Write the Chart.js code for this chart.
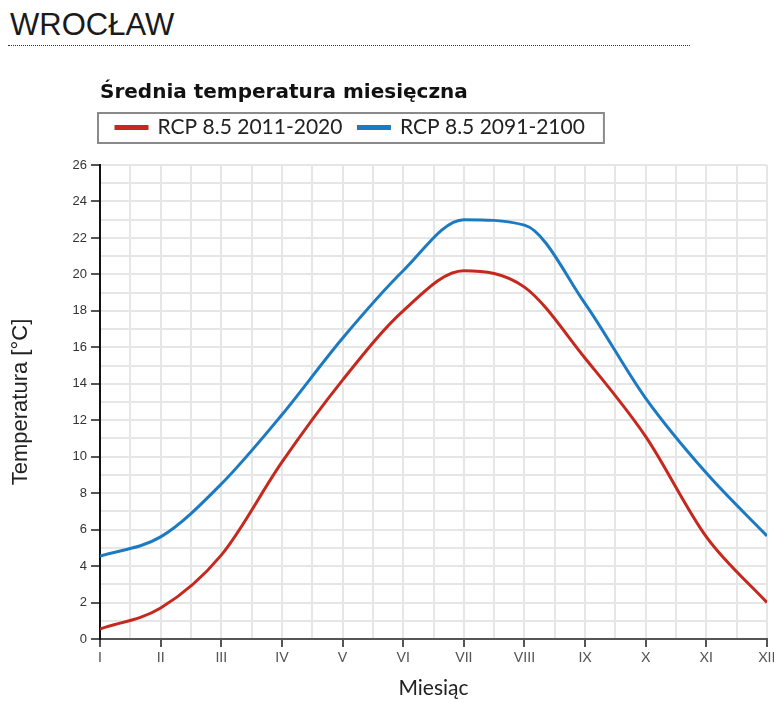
<!DOCTYPE html>
<html>
<head>
<meta charset="utf-8">
<script src="https://cdn.jsdelivr.net/npm/chart.js@4/dist/chart.umd.min.js"></script>
<style>
  html, body { margin: 0; padding: 0; background: #fff; overflow: hidden; }
  #wrap { position: relative; width: 774px; height: 702px; }
  #city { position: absolute; left: 10px; top: 8px; font-family: "Liberation Sans", Arial, sans-serif; font-size: 31px; color: #1a1a1a; line-height: 34px; }
  #rule { position: absolute; left: 8px; top: 45px; width: 682px; border-top: 1px dotted #333; }
  #c { position: absolute; left: 0; top: 0; }
</style>
</head>
<body>
<div id="wrap">
  <div id="city">WROCŁAW</div>
  <div id="rule"></div>
  <canvas id="c" width="774" height="702"></canvas>
</div>
<script>
const months = ["I","II","III","IV","V","VI","VII","VIII","IX","X","XI","XII"];
const rcp2011 = [0.55, 1.7, 4.6, 9.7, 14.2, 18.0, 20.2, 19.3, 15.4, 11.1, 5.6, 2.0];
const rcp2091 = [4.55, 5.6, 8.5, 12.3, 16.5, 20.2, 23.0, 22.7, 18.4, 13.2, 9.1, 5.65];
const seriesNames = ["RCP 8.5 2011-2020", "RCP 8.5 2091-2100"];
const chartTitle = "Średnia temperatura miesięczna";
const yTitle = "Temperatura [°C]";
const xTitle = "Miesiąc";

const toXY = arr => arr.map((v, i) => ({ x: i, y: v }));

const legendBorder = {
  id: 'legendBorder',
  afterDraw(chart) {
    const lg = chart.legend;
    if (!lg || !lg.legendHitBoxes || !lg.legendHitBoxes.length) return;
    const hb = lg.legendHitBoxes;
    const first = hb[0], last = hb[hb.length - 1];
    const ctx = chart.ctx;
    ctx.save();
    ctx.strokeStyle = '#8a8a8a';
    ctx.lineWidth = 2;
    const x0 = first.left - 18, x1 = last.left + last.width + 19;
    const y0 = first.top - 4, y1 = first.top + first.height + 5;
    ctx.strokeRect(x0, y0, x1 - x0, y1 - y0);
    ctx.restore();
  }
};

new Chart(document.getElementById('c'), {
  type: 'line',
  data: {
    datasets: [
      { label: seriesNames[0], data: toXY(rcp2011), borderColor: '#c5281c', backgroundColor: '#c5281c', borderWidth: 3, pointRadius: 0, cubicInterpolationMode: 'monotone', fill: false },
      { label: seriesNames[1], data: toXY(rcp2091), borderColor: '#1b7ac2', backgroundColor: '#1b7ac2', borderWidth: 3, pointRadius: 0, cubicInterpolationMode: 'monotone', fill: false }
    ]
  },
  options: {
    responsive: false,
    animation: false,
    events: [],
    layout: { padding: { top: 85, right: 7, left: 0, bottom: 0 } },
    plugins: {
      title: {
        display: true, text: chartTitle, align: 'start', fullSize: false,
        color: '#111', padding: { top: 0, bottom: 0 },
        font: { family: 'DejaVu Sans', size: 20, weight: 'bold', lineHeight: 0.8 }
      },
      subtitle: {
        display: true, text: ' ', weight: 500, fullSize: false, padding: 0,
        font: { size: 1, lineHeight: '17px' }
      },
      legend: {
        display: true, align: 'start', fullSize: false,
        labels: {
          boxWidth: 31, boxHeight: 2, padding: 16, color: '#222',
          font: { family: 'Lato', size: 21 }
        }
      },
      tooltip: { enabled: false }
    },
    scales: {
      x: {
        type: 'linear', min: 0, max: 11,
        afterFit(s) { s.height = 63; s.paddingLeft = 0; s.paddingRight = 0; },
        ticks: {
          stepSize: 0.5, autoSkip: false, maxRotation: 0, padding: 2,
          color: '#555', font: { family: 'Lato', size: 14 },
          callback: v => Number.isInteger(v) ? months[v] : ''
        },
        grid: {
          color: '#e6e6e6', lineWidth: 2, tickLength: 8,
          tickColor: c => (c.tick && Number.isInteger(c.tick.value)) ? '#555' : 'rgba(0,0,0,0)',
          tickWidth: 2
        },
        border: { color: '#555', width: 2 },
        title: { display: true, text: xTitle, color: '#222', padding: { top: 0, bottom: 1.5 }, font: { family: 'Lato', size: 21 } }
      },
      y: {
        min: 0, max: 26,
        afterFit(s) { s.width = 100; },
        ticks: {
          stepSize: 1, autoSkip: false, padding: 4,
          color: '#333', font: { family: 'Liberation Sans', size: 13 },
          callback: v => (v % 2 === 0) ? String(v) : ''
        },
        grid: {
          color: '#e6e6e6', lineWidth: 2, tickLength: 9,
          tickColor: c => (c.tick && c.tick.value % 2 === 0) ? '#555' : 'rgba(0,0,0,0)',
          tickWidth: 2
        },
        border: { color: '#111', width: 2 },
        title: { display: true, text: yTitle, color: '#222', padding: { top: 8, bottom: 0 }, font: { family: 'Liberation Sans', size: 22 } }
      }
    }
  },
  plugins: [legendBorder]
});
</script>
</body>
</html>
